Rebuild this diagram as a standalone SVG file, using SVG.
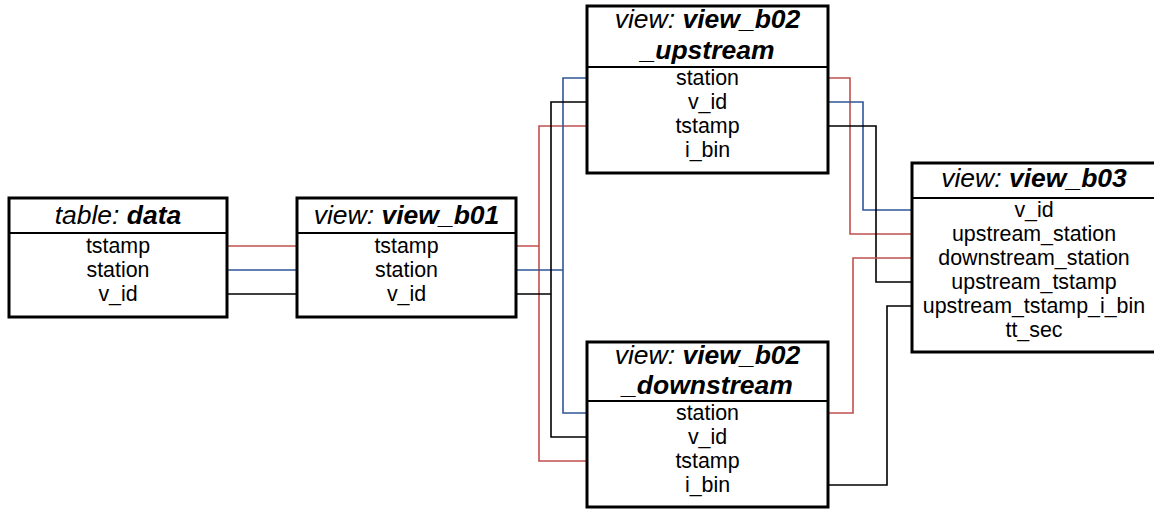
<svg xmlns="http://www.w3.org/2000/svg" width="1154" height="509" viewBox="0 0 1154 509">
<style>
.box{fill:#fff;stroke:#000;stroke-width:3}
.div{stroke:#000;stroke-width:2}
.hd{font-family:"Liberation Sans",Arial,sans-serif;font-size:26.5px;font-style:italic;text-anchor:middle;fill:#000}
.hd .b{font-weight:bold}
.row{font-family:"Liberation Sans",Arial,sans-serif;font-size:21.4px;text-anchor:middle;fill:#000}
.c{fill:none;stroke-width:1.6}
.r{stroke:#c0504d}
.bl{stroke:#2f5597}
.k{stroke:#000}
</style>
<rect width="1154" height="509" fill="#fff"/>
<g id="connectors">
<path class="c r" d="M227 246H297"/>
<path class="c bl" d="M227 270H297"/>
<path class="c k" d="M227 294H297"/>
<path class="c r" d="M516 246H539M587 126H539V461H587"/>
<path class="c bl" d="M516 270H563M587 78H563V413H587"/>
<path class="c k" d="M516 294H551M587 102H551V437H587"/>
<path class="c r" d="M828 78H850V234H912"/>
<path class="c bl" d="M828 102H863V210H912"/>
<path class="c k" d="M828 126H876V282H912"/>
<path class="c r" d="M828 413H853V258H912"/>
<path class="c k" d="M828 485H887V306H912"/>
</g>
<g id="data">
<rect class="box" x="9" y="198" width="218" height="119"/>
<line class="div" x1="9" y1="233" x2="227" y2="233"/>
<text class="hd" x="118" y="224">table: <tspan class="b">data</tspan></text>
<text class="row" x="118" y="253">tstamp</text>
<text class="row" x="118" y="277">station</text>
<text class="row" x="118" y="301">v_id</text>
</g>
<g id="view_b01">
<rect class="box" x="297" y="198" width="219" height="119"/>
<line class="div" x1="297" y1="233" x2="516" y2="233"/>
<text class="hd" x="406.5" y="224">view: <tspan class="b">view_b01</tspan></text>
<text class="row" x="406.5" y="253">tstamp</text>
<text class="row" x="406.5" y="277">station</text>
<text class="row" x="406.5" y="301">v_id</text>
</g>
<g id="view_b02_upstream">
<rect class="box" x="587" y="6" width="241" height="167"/>
<line class="div" x1="587" y1="67" x2="828" y2="67"/>
<text class="hd" x="707.5" y="28">view: <tspan class="b">view_b02</tspan></text>
<text class="hd" x="707.5" y="59"><tspan class="b">_upstream</tspan></text>
<text class="row" x="707.5" y="85">station</text>
<text class="row" x="707.5" y="109">v_id</text>
<text class="row" x="707.5" y="133">tstamp</text>
<text class="row" x="707.5" y="157">i_bin</text>
</g>
<g id="view_b02_downstream">
<rect class="box" x="587" y="342" width="241" height="165"/>
<line class="div" x1="587" y1="401" x2="828" y2="401"/>
<text class="hd" x="707.5" y="364">view: <tspan class="b">view_b02</tspan></text>
<text class="hd" x="707.5" y="394"><tspan class="b">_downstream</tspan></text>
<text class="row" x="707.5" y="420">station</text>
<text class="row" x="707.5" y="444">v_id</text>
<text class="row" x="707.5" y="468">tstamp</text>
<text class="row" x="707.5" y="492">i_bin</text>
</g>
<g id="view_b03">
<rect class="box" x="912" y="163" width="245" height="189"/>
<line class="div" x1="912" y1="198" x2="1157" y2="198"/>
<text class="hd" x="1034" y="187">view: <tspan class="b">view_b03</tspan></text>
<text class="row" x="1034" y="217">v_id</text>
<text class="row" x="1034" y="241">upstream_station</text>
<text class="row" x="1034" y="265">downstream_station</text>
<text class="row" x="1034" y="289">upstream_tstamp</text>
<text class="row" x="1034" y="313">upstream_tstamp_i_bin</text>
<text class="row" x="1034" y="337">tt_sec</text>
</g>
</svg>
